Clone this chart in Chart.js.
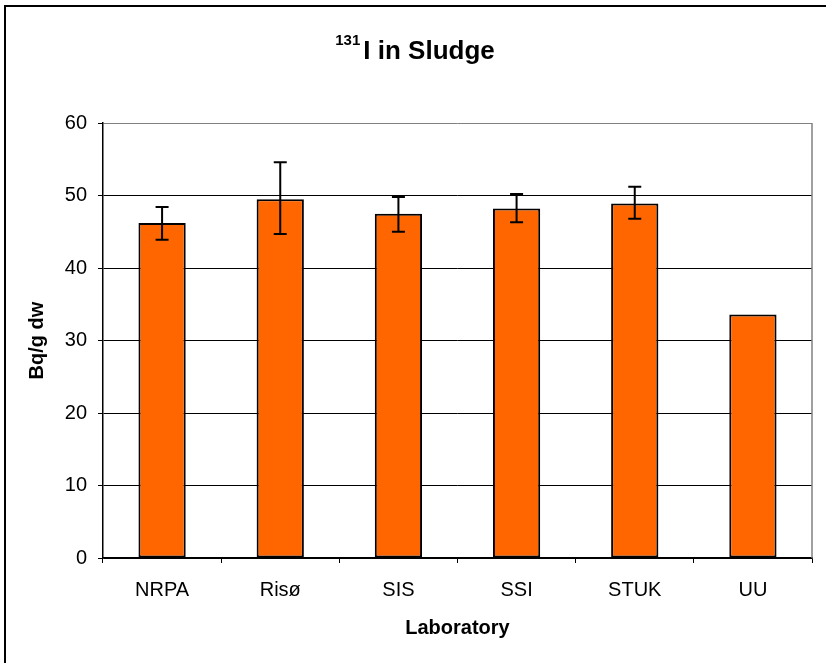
<!DOCTYPE html>
<html>
<head>
<meta charset="utf-8">
<script src="https://cdn.jsdelivr.net/npm/chart.js@4/dist/chart.umd.min.js"></script>
<style>
  html, body { margin: 0; padding: 0; background: #fff; }
  #wrap { width: 826px; height: 663px; position: relative; }
</style>
</head>
<body>
<div id="wrap"><canvas id="c" width="826" height="663"></canvas></div>
<script>
const categories = ['NRPA', 'Risø', 'SIS', 'SSI', 'STUK', 'UU'];
const values = [46.2, 49.5, 47.5, 48.2, 48.9, 33.6];
const errLow = [43.9, 44.7, 45.0, 46.3, 46.8, null];
const errHigh = [48.4, 54.6, 49.8, 50.2, 51.2, null];
const yTicks = [0, 10, 20, 30, 40, 50, 60];
const titleSup = '131';
const titleMain = 'I in Sludge';
const xTitle = 'Laboratory';
const yTitle = 'Bq/g dw';

const FONT = '"Liberation Sans", Arial, sans-serif';

const framePlugin = {
  id: 'frame',
  beforeDraw(chart) {
    const ctx = chart.ctx;
    ctx.save();
    ctx.fillStyle = '#fff';
    ctx.fillRect(0, 0, chart.width, chart.height);
    ctx.fillStyle = '#000';
    ctx.fillRect(4, 5, chart.width - 4, 2);
    ctx.fillRect(4, 5, 2, chart.height - 5);
    ctx.restore();
  },
  afterDraw(chart) {
    const ctx = chart.ctx;
    const a = chart.chartArea;
    ctx.save();
    ctx.strokeStyle = '#808080';
    ctx.lineWidth = 1.5;
    ctx.beginPath();
    ctx.moveTo(a.right, a.top);
    ctx.lineTo(a.right, a.bottom);
    ctx.stroke();
    ctx.fillStyle = '#000';
    ctx.textBaseline = 'alphabetic';
    ctx.textAlign = 'left';
    ctx.font = 'bold 15px ' + FONT;
    const wSup = ctx.measureText(titleSup).width;
    ctx.font = 'bold 26px ' + FONT;
    const wMain = ctx.measureText(titleMain).width;
    const gap = 3;
    const start = chart.width / 2 - (wSup + gap + wMain) / 2 + 2;
    ctx.font = 'bold 15px ' + FONT;
    ctx.fillText(titleSup, start, 45);
    ctx.font = 'bold 26px ' + FONT;
    ctx.fillText(titleMain, start + wSup + gap, 59);
    ctx.restore();
  }
};

const errorPlugin = {
  id: 'errbars',
  afterDatasetsDraw(chart) {
    const ctx = chart.ctx;
    const meta = chart.getDatasetMeta(0);
    const ys = chart.scales.y;
    ctx.save();
    ctx.strokeStyle = '#000';
    ctx.lineWidth = 2;
    meta.data.forEach((bar, i) => {
      if (errLow[i] == null || errHigh[i] == null) return;
      const x = bar.x;
      const y1 = ys.getPixelForValue(errLow[i]);
      const y2 = ys.getPixelForValue(errHigh[i]);
      const cap = 6.5;
      ctx.beginPath();
      ctx.moveTo(x, y1); ctx.lineTo(x, y2);
      ctx.moveTo(x - cap, y1); ctx.lineTo(x + cap, y1);
      ctx.moveTo(x - cap, y2); ctx.lineTo(x + cap, y2);
      ctx.stroke();
    });
    ctx.restore();
  }
};

new Chart(document.getElementById('c'), {
  type: 'bar',
  data: {
    labels: categories,
    datasets: [{
      data: values,
      backgroundColor: '#FF6600',
      borderColor: '#000',
      borderWidth: 2,
      borderSkipped: false,
      categoryPercentage: 1,
      barPercentage: 0.40
    }]
  },
  options: {
    responsive: false,
    animation: false,
    devicePixelRatio: 1,
    layout: { padding: { top: 123, right: 14, left: 0, bottom: 0 } },
    plugins: {
      legend: { display: false },
      title: { display: false },
      tooltip: { enabled: false }
    },
    scales: {
      x: {
        offset: true,
        grid: {
          offset: true,
          drawOnChartArea: false,
          drawTicks: true,
          tickLength: 5,
          color: '#000',
          tickColor: '#000',
          lineWidth: 1
        },
        border: { display: true, color: '#000', width: 1.5 },
        ticks: {
          color: '#000',
          font: { family: FONT, size: 20 },
          padding: 15,
          maxRotation: 0,
          autoSkip: false
        },
        title: {
          display: true,
          text: xTitle,
          color: '#000',
          font: { family: FONT, size: 20, weight: 'bold' },
          padding: { top: 0, bottom: 23 }
        },
        afterFit(scale) { scale.height = 105; }
      },
      y: {
        min: 0,
        max: 60,
        afterBuildTicks(scale) { scale.ticks = yTicks.map(v => ({ value: v })); },
        grid: {
          color: (c) => (c.tick && c.tick.value === 60 ? '#808080' : '#000'),
          tickColor: '#000',
          lineWidth: 1,
          tickLength: 5
        },
        border: { display: true, color: '#000', width: 1.5 },
        ticks: {
          color: '#000',
          font: { family: FONT, size: 20 },
          padding: 11
        },
        title: {
          display: true,
          text: yTitle,
          color: '#000',
          font: { family: FONT, size: 20, weight: 'bold' },
          padding: { top: 25, bottom: 0 }
        },
        afterFit(scale) { scale.width = 103; }
      }
    }
  },
  plugins: [framePlugin, errorPlugin]
});
</script>
</body>
</html>
